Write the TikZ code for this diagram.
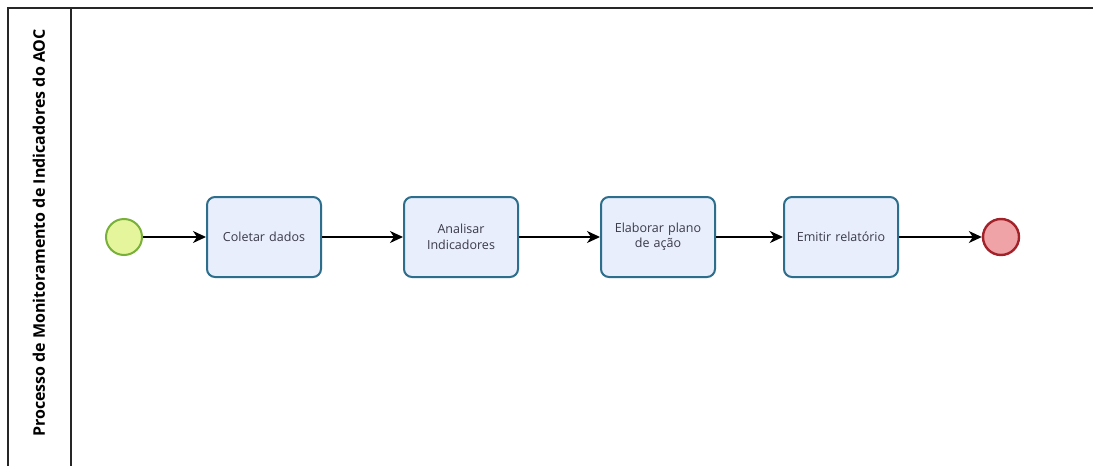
\documentclass[tikz,border=0pt]{standalone}
\usepackage{fontspec}
\setmainfont{Open Sans}
\usetikzlibrary{arrows.meta}
\definecolor{taskfill}{HTML}{E8EEFB}
\definecolor{taskdraw}{HTML}{2D6E8C}
\definecolor{startfill}{HTML}{E4F59B}
\definecolor{startdraw}{HTML}{78B03A}
\definecolor{endfill}{HTML}{EFA3A6}
\definecolor{enddraw}{HTML}{A3222A}
\definecolor{txt}{HTML}{3A3A4A}
\tikzset{
  task/.style={draw=taskdraw, fill=taskfill, line width=2pt, rounded corners=8pt,
    minimum width=114pt, minimum height=80pt, text width=104pt, align=center,
    font=\fontsize{12.5}{15.5}\selectfont, text=txt, inner sep=0pt},
  startev/.style={circle, draw=startdraw, fill=startfill, line width=2pt, minimum size=36pt, inner sep=0pt},
  endev/.style={circle, draw=enddraw, fill=endfill, line width=2.4pt, minimum size=36pt, inner sep=0pt},
  flow/.style={draw=black, line width=1.3pt, -{Stealth[length=13pt,width=12pt,inset=4pt]}},
  pool/.style={draw=black!85, line width=1.6pt}
}
\begin{document}
\begin{tikzpicture}[x=1pt,y=-1pt]
\useasboundingbox (0,0) rectangle (1093,466);
\fill[white] (0,0) rectangle (1093,466);
% pool
\draw[pool] (8,466) -- (8,8) -- (1093,8);
\draw[pool, line width=1.1pt] (71,8) -- (71,466);
\node[rotate=90, font=\fontsize{16}{19}\selectfont\bfseries, text=black] (title) at (39,233) {Processo de Monitoramento de Indicadores do AOC};
% events and tasks
\node[startev] (s) at (124,237) {};
\node[task] (t1) at (264,237) {Coletar dados};
\node[task] (t2) at (461,237) {Analisar\\Indicadores};
\node[task] (t3) at (658,237) {Elaborar plano\\de ação};
\node[task] (t4) at (841,237) {Emitir relatório};
\node[endev] (e) at (1001,237) {};
% flows
\draw[flow] (s) -- (t1);
\draw[flow] (t1) -- (t2);
\draw[flow] (t2) -- (t3);
\draw[flow] (t3) -- (t4);
\draw[flow] (t4) -- (e);
\end{tikzpicture}
\end{document}
